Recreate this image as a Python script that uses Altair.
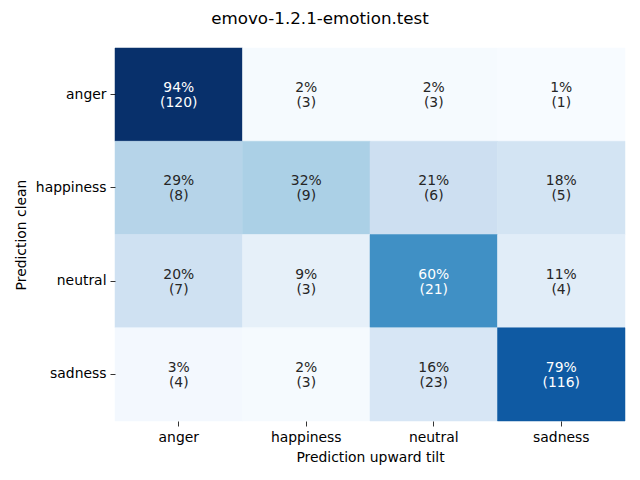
import altair as alt
import pandas as pd

clean = ["anger", "happiness", "neutral", "sadness"]
tilt = ["anger", "happiness", "neutral", "sadness"]
pct = [[94, 2, 2, 1], [29, 32, 21, 18], [20, 9, 60, 11], [3, 2, 16, 79]]
counts = [[120, 3, 3, 1], [8, 9, 6, 5], [7, 3, 21, 4], [4, 3, 23, 116]]

rows = []
for i, c in enumerate(clean):
    for j, t in enumerate(tilt):
        rows.append({"clean": c, "tilt": t, "pct": pct[i][j], "count": counts[i][j],
                     "label": f"{pct[i][j]}%\n({counts[i][j]})"})
df = pd.DataFrame(rows)

blues = ["#f7fbff", "#deebf7", "#c6dbef", "#9ecae1", "#6baed6",
         "#4292c6", "#2171b5", "#08519c", "#08306b"]
lo, hi = float(df.pct.min()), float(df.pct.max())
dom = [lo + (hi - lo) * k / 8 for k in range(9)]

FONT = "DejaVu Sans"
FS = 13.9

base = alt.Chart(df).encode(
    x=alt.X("tilt:N", sort=tilt, title="Prediction upward tilt",
            scale=alt.Scale(paddingInner=0, paddingOuter=0),
            axis=alt.Axis(labelAngle=0, domain=False, tickSize=5, tickWidth=0.8,
                          tickColor="black", labelPadding=4, titlePadding=7,
                          labelFontSize=FS, titleFontSize=FS, labelFont=FONT,
                          titleFont=FONT, titleFontWeight="normal",
                          labelColor="black", titleColor="black")),
    y=alt.Y("clean:N", sort=clean, title="Prediction clean",
            scale=alt.Scale(paddingInner=0, paddingOuter=0),
            axis=alt.Axis(domain=False, tickSize=5, tickWidth=0.8,
                          tickColor="black", labelPadding=4, titlePadding=7,
                          labelFontSize=FS, titleFontSize=FS, labelFont=FONT,
                          titleFont=FONT, titleFontWeight="normal",
                          labelColor="black", titleColor="black")),
)

rect = base.mark_rect(strokeWidth=0.5).encode(
    color=alt.Color("pct:Q", scale=alt.Scale(domain=dom, range=blues, interpolate="rgb"),
                    legend=None),
    stroke=alt.Stroke("pct:Q", scale=alt.Scale(domain=dom, range=blues, interpolate="rgb"),
                      legend=None),
)

text = base.mark_text(fontSize=FS, font=FONT, lineBreak="\n", baseline="middle",
                      lineHeight=15, dy=-6.5).encode(
    text="label:N",
    color=alt.condition("datum.pct > 50", alt.value("white"), alt.value("#262626")),
)

chart = (rect + text).properties(
    width=510, height=373,
    autosize=alt.AutoSizeParams(type="none"),
    padding={"left": 107, "top": 40, "right": 7, "bottom": 51},
    title=alt.TitleParams("emovo-1.2.1-emotion.test", fontSize=16.7, font=FONT,
                          fontWeight="normal", anchor="middle", dx=-50, offset=20,
                          color="black"),
).configure_view(stroke=None)

chart.save("out.html", embed_options={"renderer": "svg", "actions": False})
